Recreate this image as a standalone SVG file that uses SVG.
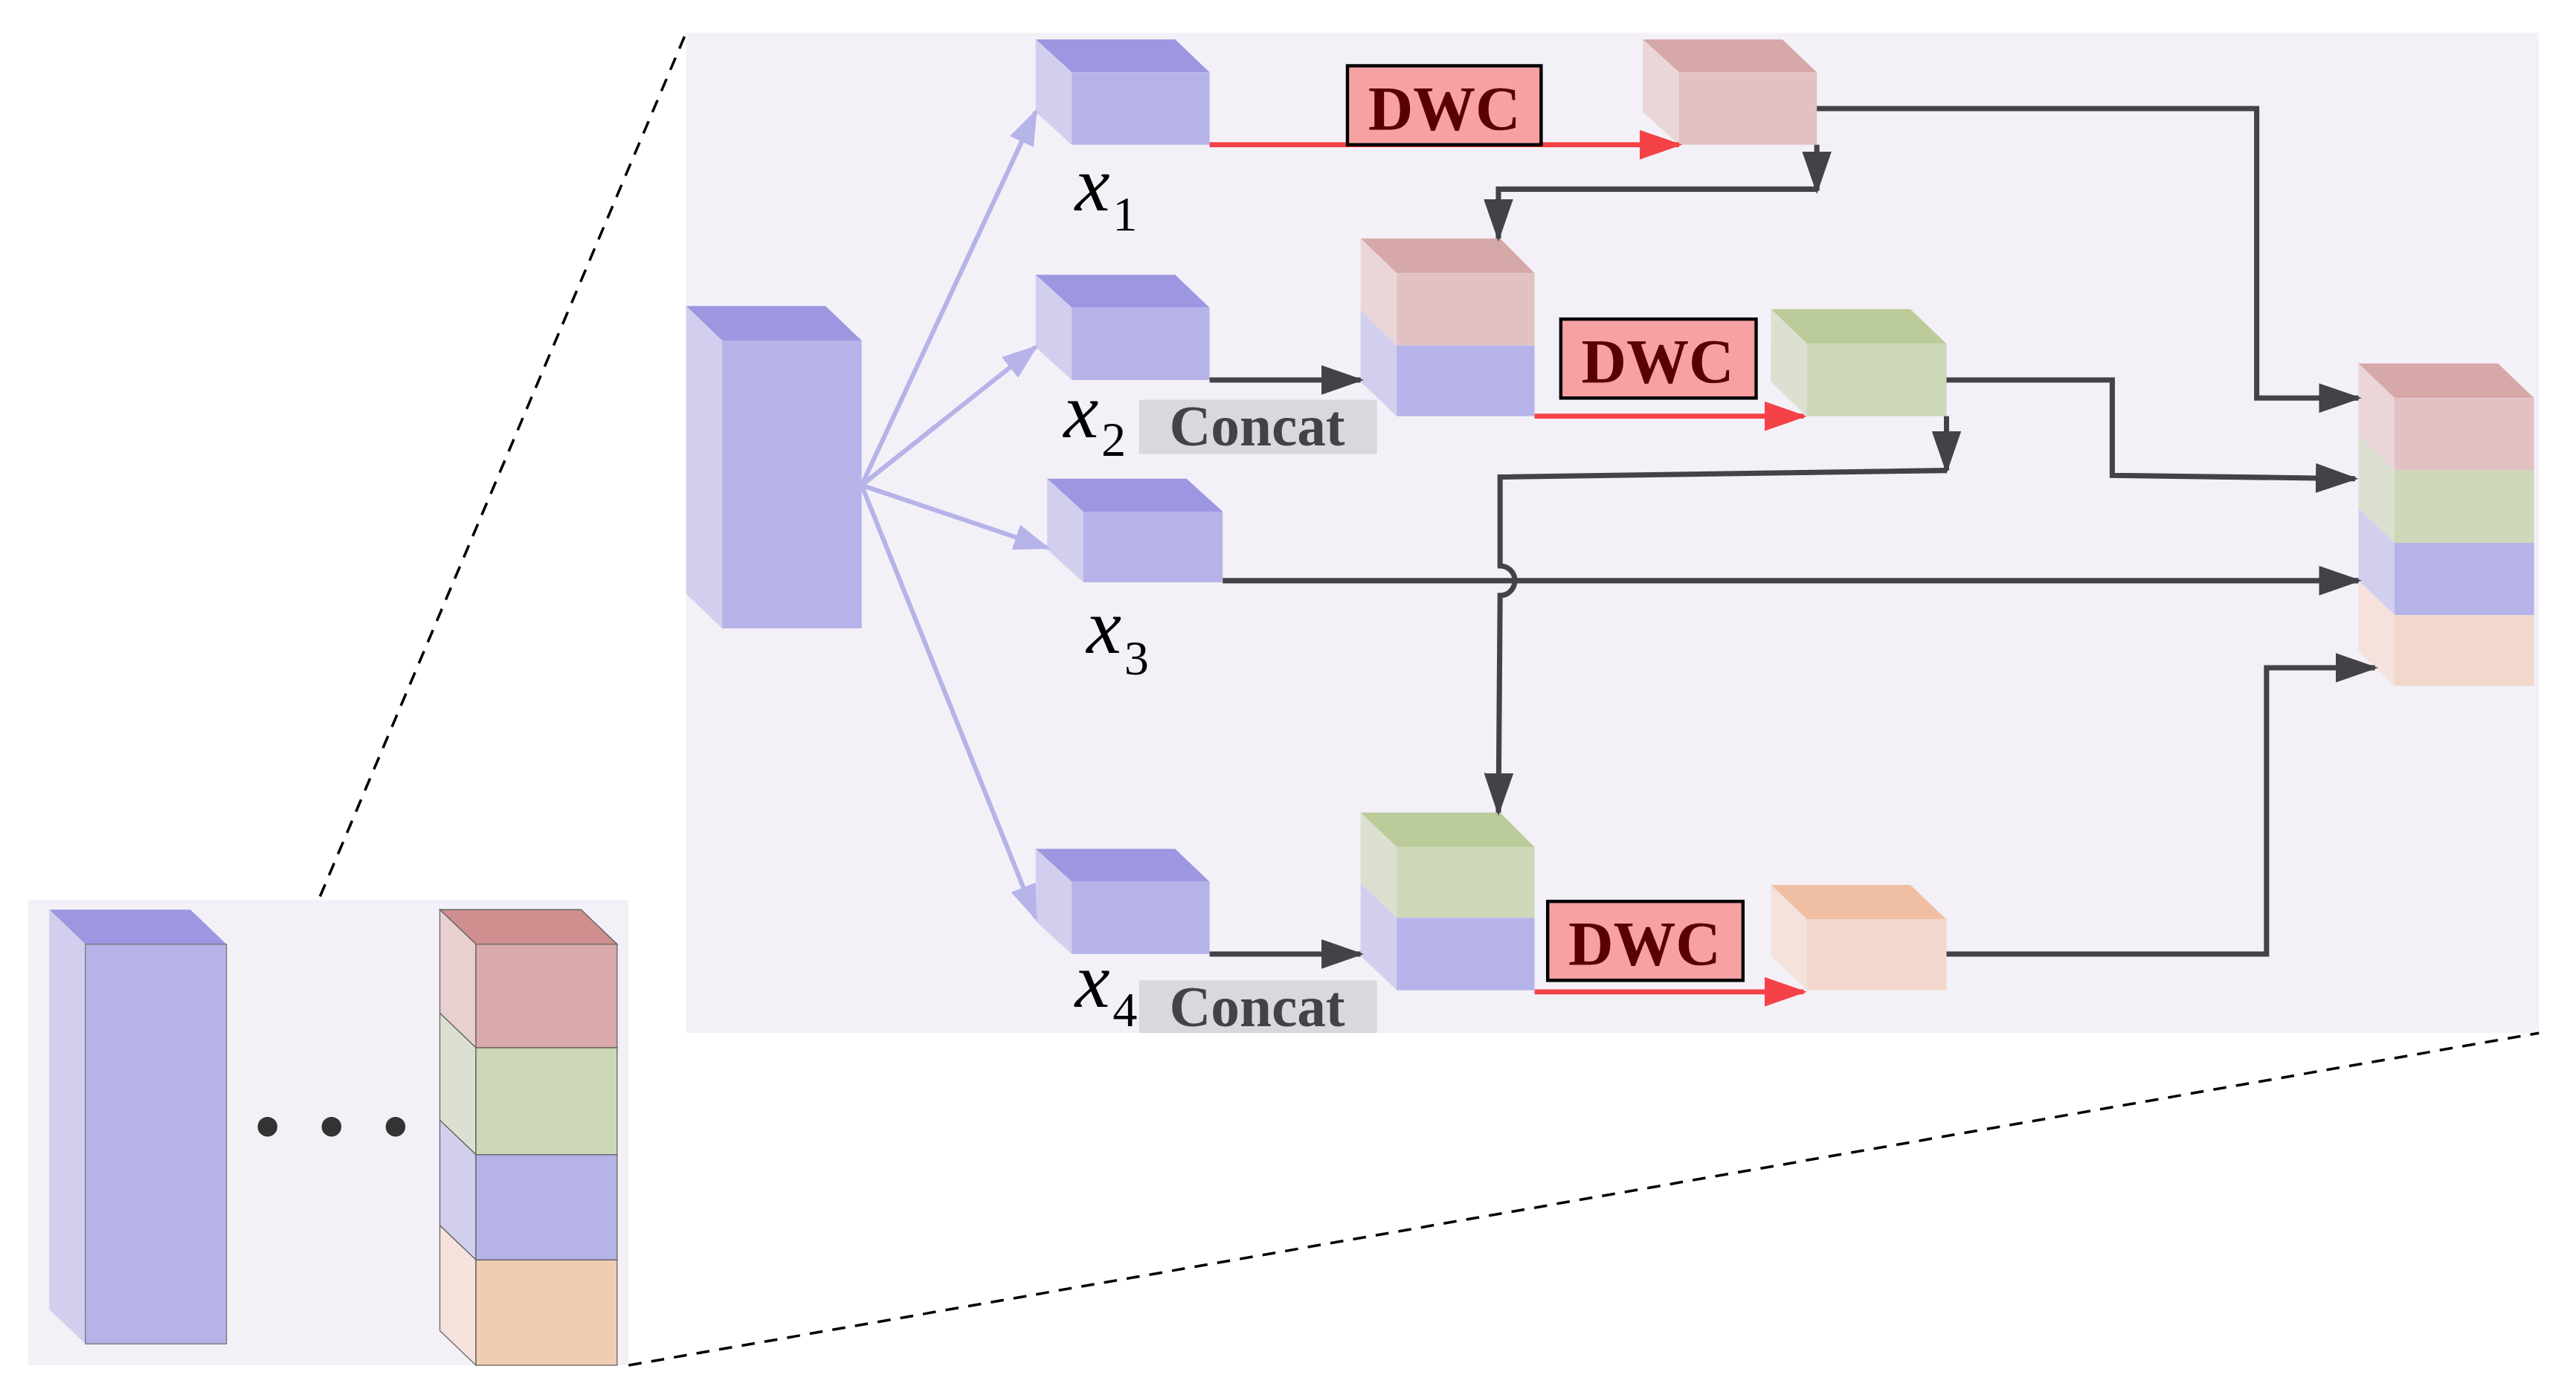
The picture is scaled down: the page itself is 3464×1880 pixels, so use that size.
<svg xmlns="http://www.w3.org/2000/svg" width="3464" height="1880" viewBox="0 0 3464 1880">
<defs>
<style>
.bf{fill:#b6b3e9}.bt{fill:#9d97e1}.bs{fill:#d2cfee}
.pf{fill:#e2c1c3}.pt{fill:#d7a8a8}.ps{fill:#ead6d8}
.gf{fill:#cdd8b8}.gt{fill:#bccb9a}.gs{fill:#dce0d0}
.of{fill:#f2d8cc}.ot{fill:#f0bfa3}.os{fill:#f5e2dc}
.rf{fill:#daa9aa}.rt{fill:#d08e8e}.rs{fill:#e8d0d0}
.o2f{fill:#f0ccb2}
.dk{fill:none;stroke:#434247;stroke-width:3.2}
.lp{fill:none;stroke:#b6b3e9;stroke-width:2.8}
.rd{fill:none;stroke:#f44247;stroke-width:3}
.dash{fill:none;stroke:#000;stroke-width:1.6;stroke-dasharray:8 6}
.dwcb{fill:#f7a1a3;stroke:#000;stroke-width:2}
.dwct{font-family:'Liberation Serif',serif;font-weight:bold;font-size:38px;fill:#5a0000}
.cb{fill:#d9d8de}
.ct{font-family:'Liberation Serif',serif;font-weight:bold;font-size:35px;fill:#434247}
.xl{font-family:'Liberation Serif',serif;font-style:italic;font-size:48px;fill:#000}
.sub{font-family:'Liberation Serif',serif;font-size:30px;fill:#000}
</style>
<marker id="ad" markerUnits="userSpaceOnUse" markerWidth="26" markerHeight="18" refX="24" refY="9" orient="auto"><path d="M0,0L26,9L0,18z" fill="#434247"/></marker>
<marker id="ar" markerUnits="userSpaceOnUse" markerWidth="26" markerHeight="18" refX="24" refY="9" orient="auto"><path d="M0,0L26,9L0,18z" fill="#f44247"/></marker>
<marker id="al" markerUnits="userSpaceOnUse" markerWidth="22" markerHeight="16" refX="20" refY="8" orient="auto"><path d="M0,0L22,8L0,16z" fill="#b6b3e9"/></marker>
</defs>
<g transform="scale(2.207 2.212)">
<g id="panels">
<rect x="418" y="20" width="1129" height="608" fill="#f3f1f7"/>
<rect x="17" y="547" width="366" height="283" fill="#f3f1f7"/>
<line class="dash" x1="195" y1="545" x2="418" y2="20"/>
<line class="dash" x1="383" y1="830" x2="1547" y2="628"/>
</g>
<g id="left-tall">
<polygon class="bt" points="30,553 116,553 138,574 52,574"/>
<polygon class="bs" points="30,553 52,574 52,817 30,796"/>
<rect class="bf" x="52" y="574" width="86" height="243" stroke="#777" stroke-width="0.6"/>
</g>
<g id="dots" fill="#333"><circle cx="163" cy="685" r="6"/><circle cx="202" cy="685" r="6"/><circle cx="241" cy="685" r="6"/></g>
<g id="left-stack" stroke="#666" stroke-width="0.6">
<polygon class="rt" points="268,553 354,553 376,574 290,574"/>
<polygon class="rs" points="268,553 290,574 290,637 268,616"/><rect class="rf" x="290" y="574" width="86" height="63"/>
<polygon class="gs" points="268,616 290,637 290,702 268,681"/><rect class="gf" x="290" y="637" width="86" height="65"/>
<polygon class="bs" points="268,681 290,702 290,766 268,745"/><rect class="bf" x="290" y="702" width="86" height="64"/>
<polygon class="os" points="268,745 290,766 290,830 268,809"/><rect class="o2f" x="290" y="766" width="86" height="64"/>
</g>
<g id="input">
<polygon class="bt" points="418,186 503,186 525,207 440,207"/>
<polygon class="bs" points="418,186 440,207 440,382 418,361"/>
<rect class="bf" x="440" y="207" width="85" height="175"/>
</g>
<g id="x1"><polygon class="bt" points="631,24 716,24 737,44 653,44"/><polygon class="bs" points="631,24 653,44 653,88 631,68"/><rect class="bf" x="653" y="44" width="84" height="44"/></g>
<g id="x2"><polygon class="bt" points="631,167 716,167 737,187 653,187"/><polygon class="bs" points="631,167 653,187 653,231 631,211"/><rect class="bf" x="653" y="187" width="84" height="44"/></g>
<g id="x3"><polygon class="bt" points="638,291 723,291 745,311 660,311"/><polygon class="bs" points="638,291 660,311 660,354 638,334"/><rect class="bf" x="660" y="311" width="85" height="43"/></g>
<g id="x4"><polygon class="bt" points="631,516 716,516 737,536 653,536"/><polygon class="bs" points="631,516 653,536 653,580 631,560"/><rect class="bf" x="653" y="536" width="84" height="44"/></g>
<g id="dwc1-out"><polygon class="pt" points="1001,24 1086,24 1107,44 1023,44"/><polygon class="ps" points="1001,24 1023,44 1023,88 1001,68"/><rect class="pf" x="1023" y="44" width="84" height="44"/></g>
<g id="concat1">
<polygon class="pt" points="829,145 914,145 935,166 851,166"/>
<polygon class="ps" points="829,145 851,166 851,210 829,189"/><rect class="pf" x="851" y="166" width="84" height="44"/>
<polygon class="bs" points="829,189 851,210 851,253 829,232"/><rect class="bf" x="851" y="210" width="84" height="43"/>
</g>
<g id="dwc2-out"><polygon class="gt" points="1079,188 1164,188 1186,209 1101,209"/><polygon class="gs" points="1079,188 1101,209 1101,253 1079,232"/><rect class="gf" x="1101" y="209" width="85" height="44"/></g>
<g id="concat2">
<polygon class="gt" points="829,494 914,494 935,515 851,515"/>
<polygon class="gs" points="829,494 851,515 851,558 829,537"/><rect class="gf" x="851" y="515" width="84" height="43"/>
<polygon class="bs" points="829,537 851,558 851,602 829,581"/><rect class="bf" x="851" y="558" width="84" height="44"/>
</g>
<g id="dwc3-out"><polygon class="ot" points="1079,538 1164,538 1186,559 1101,559"/><polygon class="os" points="1079,538 1101,559 1101,602 1079,581"/><rect class="of" x="1101" y="559" width="85" height="43"/></g>
<g id="output">
<polygon class="pt" points="1437,221 1522,221 1544,242 1459,242"/>
<polygon class="ps" points="1437,221 1459,242 1459,286 1437,265"/><rect class="pf" x="1459" y="242" width="85" height="44"/>
<polygon class="gs" points="1437,265 1459,286 1459,330 1437,309"/><rect class="gf" x="1459" y="286" width="85" height="44"/>
<polygon class="bs" points="1437,309 1459,330 1459,374 1437,353"/><rect class="bf" x="1459" y="330" width="85" height="44"/>
<polygon class="os" points="1437,353 1459,374 1459,417 1437,396"/><rect class="of" x="1459" y="374" width="85" height="43"/>
</g>
<g id="connectors">
<line class="lp" x1="525" y1="295" x2="631" y2="68" marker-end="url(#al)"/>
<line class="lp" x1="525" y1="295" x2="631" y2="211" marker-end="url(#al)"/>
<line class="lp" x1="525" y1="295" x2="638" y2="333" marker-end="url(#al)"/>
<line class="lp" x1="525" y1="295" x2="631" y2="558" marker-end="url(#al)"/>
<line class="rd" x1="737" y1="88" x2="1023" y2="88" marker-end="url(#ar)"/>
<line class="rd" x1="935" y1="253" x2="1099" y2="253" marker-end="url(#ar)"/>
<line class="rd" x1="935" y1="603" x2="1099" y2="603" marker-end="url(#ar)"/>
<line class="dk" x1="737" y1="231" x2="829" y2="231" marker-end="url(#ad)"/>
<line class="dk" x1="737" y1="580" x2="829" y2="580" marker-end="url(#ad)"/>
<polyline class="dk" points="1107,66 1375,66 1375,242 1437,242" marker-end="url(#ad)"/>
<line class="dk" x1="1107" y1="88" x2="1107" y2="116" marker-end="url(#ad)"/>
<polyline class="dk" points="1107,115 913,115 913,145" marker-end="url(#ad)"/>
<polyline class="dk" points="1186,231 1287,231 1287,289 1435,291" marker-end="url(#ad)"/>
<line class="dk" x1="1186" y1="253" x2="1186" y2="286" marker-end="url(#ad)"/>
<path class="dk" d="M1186,286 L914,290 L914,344 A9,9 0 0 1 914,362 L913,494" marker-end="url(#ad)"/>
<line class="dk" x1="745" y1="353" x2="1437" y2="353" marker-end="url(#ad)"/>
<polyline class="dk" points="1186,580 1381,580 1381,406 1447,406" marker-end="url(#ad)"/>
</g>
<g id="dwc-labels">
<rect class="dwcb" x="821" y="40" width="118" height="48"/><text class="dwct" x="880" y="79" text-anchor="middle">DWC</text>
<rect class="dwcb" x="951" y="194" width="119" height="48"/><text class="dwct" x="1010" y="233" text-anchor="middle">DWC</text>
<rect class="dwcb" x="943" y="548" width="119" height="48"/><text class="dwct" x="1002" y="587" text-anchor="middle">DWC</text>
</g>
<g id="concat-labels">
<rect class="cb" x="694" y="243" width="145" height="33"/><text class="ct" x="766" y="271" text-anchor="middle">Concat</text>
<rect class="cb" x="694" y="596" width="145" height="32"/><text class="ct" x="766" y="624" text-anchor="middle">Concat</text>
</g>
<g id="x-labels">
<text class="xl" x="655" y="128">x</text><text class="sub" x="678" y="140">1</text>
<text class="xl" x="648" y="266">x</text><text class="sub" x="671" y="277">2</text>
<text class="xl" x="662" y="397">x</text><text class="sub" x="685" y="410">3</text>
<text class="xl" x="655" y="612">x</text><text class="sub" x="678" y="624">4</text>
</g>
</g>
</svg>
